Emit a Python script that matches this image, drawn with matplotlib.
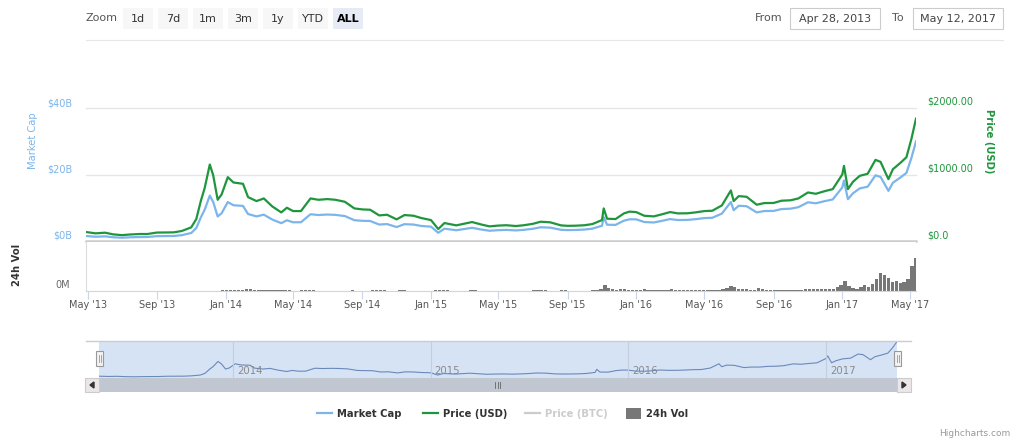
import numpy as np
import pandas as pd
import matplotlib
matplotlib.use('Agg')
import matplotlib.pyplot as plt
import matplotlib.dates as mdates
import matplotlib.transforms as mtransforms
from matplotlib.patches import Rectangle, Polygon
from matplotlib.lines import Line2D

W, H = 1024, 446

# bitcoin (approx.)
dates = ['2013-04-28', '2013-05-15', '2013-06-01', '2013-06-15', '2013-07-01', '2013-07-15',
         '2013-08-01', '2013-08-15', '2013-09-01', '2013-09-15', '2013-10-01', '2013-10-15',
         '2013-11-01', '2013-11-10', '2013-11-18', '2013-11-25', '2013-12-04', '2013-12-10',
         '2013-12-18', '2013-12-25', '2014-01-05', '2014-01-15', '2014-02-01', '2014-02-10',
         '2014-02-25', '2014-03-10', '2014-03-25', '2014-04-10', '2014-04-20', '2014-05-01',
         '2014-05-15', '2014-06-01', '2014-06-15', '2014-07-01', '2014-07-15', '2014-08-01',
         '2014-08-18', '2014-09-01', '2014-09-15', '2014-10-01', '2014-10-15', '2014-11-01',
         '2014-11-15', '2014-12-01', '2014-12-15', '2015-01-01', '2015-01-14', '2015-01-25',
         '2015-02-15', '2015-03-01', '2015-03-15', '2015-04-01', '2015-04-15', '2015-05-01',
         '2015-05-15', '2015-06-01', '2015-06-15', '2015-07-01', '2015-07-15', '2015-08-01',
         '2015-08-20', '2015-09-01', '2015-09-15', '2015-10-01', '2015-10-15', '2015-11-01',
         '2015-11-04', '2015-11-10', '2015-11-25', '2015-12-10', '2015-12-20', '2016-01-01',
         '2016-01-15', '2016-02-01', '2016-02-15', '2016-03-01', '2016-03-15', '2016-04-01',
         '2016-04-15', '2016-05-01', '2016-05-15', '2016-06-01', '2016-06-17', '2016-06-22',
         '2016-07-01', '2016-07-15', '2016-08-02', '2016-08-15', '2016-09-01', '2016-09-15',
         '2016-10-01', '2016-10-15', '2016-11-01', '2016-11-15', '2016-12-01', '2016-12-15',
         '2017-01-01', '2017-01-04', '2017-01-11', '2017-01-20', '2017-02-01', '2017-02-15',
         '2017-03-01', '2017-03-10', '2017-03-17', '2017-03-24', '2017-04-01', '2017-04-15',
         '2017-04-25', '2017-05-04', '2017-05-08', '2017-05-12']

price_usd = [135, 115, 125, 100, 88, 98,
             105, 105, 127, 128, 130, 150,
             205, 330, 600, 800, 1150, 990,
             620, 700, 960, 880, 860, 660,
             600, 640, 520, 430, 500, 450,
             450, 640, 620, 630, 620, 590,
             490, 475, 470, 385, 395, 325,
             390, 380, 345, 315, 180, 270,
             235, 260, 285, 247, 220, 232,
             237, 225, 237, 258, 290, 281,
             235, 228, 230, 237, 255, 315,
             490, 335, 330, 415, 442, 434,
             380, 370, 400, 435, 415, 417,
             430, 450, 455, 535, 760, 600,
             675, 665, 545, 570, 572, 606,
             612, 640, 730, 710, 750, 780,
             1000, 1130, 780, 890, 980, 1010,
             1220, 1190, 1060, 930, 1080, 1180,
             1260, 1540, 1690, 1840]

# market cap in $B
market_cap = [1.50, 1.28, 1.40, 1.12, 0.99, 1.11,
              1.19, 1.20, 1.46, 1.48, 1.51, 1.75,
              2.41, 3.89, 7.08, 9.46, 13.64, 11.76,
              7.38, 8.35, 11.71, 10.76, 10.55, 8.11,
              7.40, 7.92, 6.46, 5.36, 6.24, 5.63,
              5.64, 8.05, 7.81, 7.96, 7.86, 7.50,
              6.25, 6.07, 6.02, 4.95, 5.09, 4.20,
              5.06, 4.95, 4.51, 4.32, 2.47, 3.71,
              3.24, 3.60, 3.96, 3.44, 3.08, 3.26,
              3.34, 3.18, 3.36, 3.67, 4.13, 4.02,
              3.37, 3.28, 3.32, 3.44, 3.71, 4.60,
              7.16, 4.90, 4.84, 6.12, 6.53, 6.51,
              5.71, 5.57, 6.04, 6.59, 6.30, 6.35,
              6.56, 6.89, 6.98, 8.24, 11.73, 9.27,
              10.60, 10.46, 8.59, 9.00, 9.05, 9.60,
              9.72, 10.18, 11.64, 11.34, 12.00, 12.50,
              16.10, 18.20, 12.57, 14.35, 15.82, 16.32,
              19.74, 19.27, 17.18, 15.08, 17.53, 19.17,
              20.49, 25.06, 27.51, 29.97]

# weekly 24h volume in $M, first week starting 2013-12-27
vol_start = '2013-12-27'
vol_musd = [60, 70, 55, 45, 50, 40, 80, 90, 70, 45, 40, 35, 30, 30, 40, 60, 50, 30,
            25, 25, 30, 40, 40, 35, 25, 20, 20, 15, 15, 15, 15, 15, 20, 30, 20, 20,
            20, 25, 30, 35, 40, 30, 25, 20, 20, 30, 35, 25, 20, 20, 20, 20,
            15, 20, 35, 60, 45, 30, 25, 25, 25, 20, 25, 30, 30, 25, 20, 20, 20, 20,
            15, 15, 15, 15, 15, 15, 15, 20, 25, 40, 45, 30, 30, 25, 20, 25, 40, 30,
            20, 20, 20, 20, 20, 25, 30, 45, 90, 330, 150, 80, 60, 100, 90, 70,
            50, 50, 60, 90, 70, 50, 50, 50, 60, 60, 80, 60, 50, 50, 40, 40, 45, 50,
            55, 50, 40, 35, 60, 100, 150, 280, 200, 120, 100, 80, 60, 60, 150, 90,
            60, 50, 50, 55, 45, 40, 40, 50, 55, 60, 90, 110, 90, 80, 80, 80, 90, 100,
            200, 300, 500, 250, 150, 120, 200, 300, 220, 350, 600, 900, 800, 650,
            450, 500, 400, 450, 600, 1300, 1700]

cap_ticks = [0, 20, 40]
cap_labels = ['$0B', '$20B', '$40B']
usd_ticks = [0, 1000, 2000]
usd_labels = ['$0.0', '$1000.00', '$2000.00']
zoom_buttons = ['1d', '7d', '1m', '3m', '1y', 'YTD', 'ALL']
from_date = 'Apr 28, 2013'
to_date = 'May 12, 2017'

blue = '#7cb5ec'
green = '#1f963d'
grid = '#e6e6e6'

t = mdates.date2num(pd.to_datetime(dates))
vt = mdates.date2num(pd.date_range(vol_start, periods=len(vol_musd), freq='7D'))
x0 = mdates.date2num(pd.Timestamp('2013-04-28'))
x1 = mdates.date2num(pd.Timestamp('2017-05-12'))

fig = plt.figure(figsize=(W / 100, H / 100), dpi=100)
# pixel coords, origin top left
pix = mtransforms.Affine2D().scale(1 / W, -1 / H).translate(0, 1) + fig.transFigure


def rect(l, t_, r, b):
    return [l / W, 1 - b / H, (r - l) / W, (b - t_) / H]


# ---- main pane
ax = fig.add_axes(rect(86, 108, 916, 241))
ax2 = ax.twinx()
ax.plot(t, market_cap, color=blue, lw=1.6, zorder=3)
ax2.plot(t, price_usd, color=green, lw=1.6, zorder=4)
ax.set_xlim(x0, x1)
ax.set_ylim(0, 40)
ax2.set_ylim(0, 2000)
for a in (ax, ax2):
    for s in a.spines.values():
        s.set_visible(False)
    a.set_xticks([])
    a.set_yticks([])
ax.spines['bottom'].set_visible(True)
ax.spines['bottom'].set_color('#cccccc')
ax.spines['bottom'].set_linewidth(1.8)
for v in cap_ticks[1:]:
    ax.axhline(v, color=grid, lw=1, zorder=1, clip_on=False)
for v, s in zip(cap_ticks, cap_labels):
    ax.annotate(s, xy=(0, v), xycoords=('axes fraction', 'data'), xytext=(-14, 5),
                textcoords='offset pixels', ha='right', va='center', fontsize=7, color=blue)
for v, s in zip(usd_ticks, usd_labels):
    ax2.annotate(s, xy=(1, v), xycoords=('axes fraction', 'data'), xytext=(11, 6),
                 textcoords='offset pixels', ha='left', va='center', fontsize=7, color=green)

fig.text(33, 141, 'Market Cap', transform=pix, rotation=90, ha='center', va='center',
         fontsize=7.2, color=blue)
fig.text(989, 141, 'Price (USD)', transform=pix, rotation=270, ha='center', va='center',
         fontsize=7.2, color=green, fontweight='bold')

# ---- volume pane
axv = fig.add_axes(rect(86, 242, 916, 291))
axv.bar(vt, vol_musd, width=6, color='#777777', linewidth=0)
axv.set_xlim(x0, x1)
axv.set_ylim(0, 2500)
axv.set_yticks([])
for k in ('top', 'right'):
    axv.spines[k].set_visible(False)
axv.spines['bottom'].set_color('#ccd6eb')
axv.spines['left'].set_color('#dddddd')
ticks = pd.date_range('2013-05-01', '2017-05-01', freq='4MS')
axv.set_xticks(mdates.date2num(ticks))
axv.set_xticklabels([d.strftime("%b '%y") for d in ticks])
axv.tick_params(axis='x', length=5.8, color='#ccd6eb', labelsize=7, labelcolor='#555555', pad=0.5)
axv.annotate('0M', xy=(0, 0), xycoords=('axes fraction', 'data'), xytext=(-16, 6),
             textcoords='offset pixels', ha='right', va='center', fontsize=7, color='#666666')
fig.text(17, 265, '24h Vol', transform=pix, rotation=90, ha='center', va='center',
         fontsize=7.2, color='#333333', fontweight='bold')

# ---- navigator
axn = fig.add_axes(rect(99, 341, 897, 378))
axn.set_facecolor('#d6e3f5')
axn.plot(t, market_cap, color='#6a89bb', lw=0.8)
axn.set_xlim(x0, x1)
axn.set_ylim(0, 30.5)
axn.set_xticks([])
axn.set_yticks([])
for s in axn.spines.values():
    s.set_visible(False)
for yr in ['2014', '2015', '2016', '2017']:
    xv = mdates.date2num(pd.Timestamp(yr + '-01-01'))
    axn.axvline(xv, color='#c3cfdf', lw=0.8)
    axn.annotate(yr, xy=(xv, 0.19), xycoords=('data', 'axes fraction'), xytext=(4, 0),
                 textcoords='offset pixels', ha='left', va='center', fontsize=7.3, color='#8a8a8a')

fig.add_artist(Line2D([86, 911], [341, 341], transform=pix, color='#cccccc', lw=1))
# scrollbar
fig.add_artist(Rectangle((85, 378), 826, 14, transform=pix, facecolor='#f2f2f2', edgecolor='none'))
fig.add_artist(Rectangle((99, 378), 798, 14, transform=pix, facecolor='#c0c7d1', edgecolor='none'))
for bx in (85, 897):
    fig.add_artist(Rectangle((bx, 378), 14, 14, transform=pix, facecolor='#ebe7e8',
                             edgecolor='#cccccc', lw=0.8))
fig.add_artist(Polygon([[94, 382], [94, 388], [90, 385]], transform=pix, color='#333333'))
fig.add_artist(Polygon([[902, 382], [902, 388], [906, 385]], transform=pix, color='#333333'))
for gx in (495, 497.5, 500):
    fig.add_artist(Line2D([gx, gx], [382, 388], transform=pix, color='#666666', lw=0.6))
# handles
for hx in (96, 894):
    fig.add_artist(Rectangle((hx, 351), 7, 15, transform=pix, facecolor='#f2f2f2',
                             edgecolor='#999999', lw=0.8))
    for lx in (hx + 2.5, hx + 4.5):
        fig.add_artist(Line2D([lx, lx], [355, 362], transform=pix, color='#999999', lw=0.6))

# ---- top bar
fig.text(102, 18, 'Zoom', transform=pix, ha='center', va='center', fontsize=8, color='#555555')
for i, b in enumerate(zoom_buttons):
    bx = 123 + 35 * i
    sel = b == 'ALL'
    fig.add_artist(Rectangle((bx, 8), 30, 21, transform=pix, edgecolor='none',
                             facecolor='#e6ebf5' if sel else '#f7f7f7'))
    fig.text(bx + 15, 18.5, b, transform=pix, ha='center', va='center', fontsize=8,
             color='#000000' if sel else '#333333', fontweight='bold' if sel else 'normal')
fig.text(769, 18, 'From', transform=pix, ha='center', va='center', fontsize=8, color='#555555')
fig.text(898, 18, 'To', transform=pix, ha='center', va='center', fontsize=8, color='#555555')
for (bx, bw, s) in ((790, 90, from_date), (913, 90, to_date)):
    fig.add_artist(Rectangle((bx, 8), bw, 21, transform=pix, facecolor='white',
                             edgecolor='#cccccc', lw=0.8))
    fig.text(bx + bw / 2, 18.5, s, transform=pix, ha='center', va='center', fontsize=8,
             color='#444444')
fig.add_artist(Line2D([86, 1003], [40, 40], transform=pix, color='#e6e6e6', lw=0.8))

# ---- legend
leg = [('Market Cap', blue, '#333333', 'line', 317),
       ('Price (USD)', green, '#333333', 'line', 423),
       ('Price (BTC)', '#cccccc', '#cccccc', 'line', 525),
       ('24h Vol', '#777777', '#333333', 'box', 626)]
for name, c, tc, kind, lx in leg:
    if kind == 'line':
        fig.add_artist(Line2D([lx, lx + 15], [413, 413], transform=pix, color=c, lw=1.6))
    else:
        fig.add_artist(Rectangle((lx, 408), 15, 11, transform=pix, facecolor=c, edgecolor='none'))
    fig.text(lx + 20, 414, name, transform=pix, ha='left', va='center', fontsize=7.2,
             color=tc, fontweight='bold')

fig.text(1010, 433, 'Highcharts.com', transform=pix, ha='right', va='center', fontsize=6.5,
         color='#999999')

fig.savefig('out.png', dpi=100)
